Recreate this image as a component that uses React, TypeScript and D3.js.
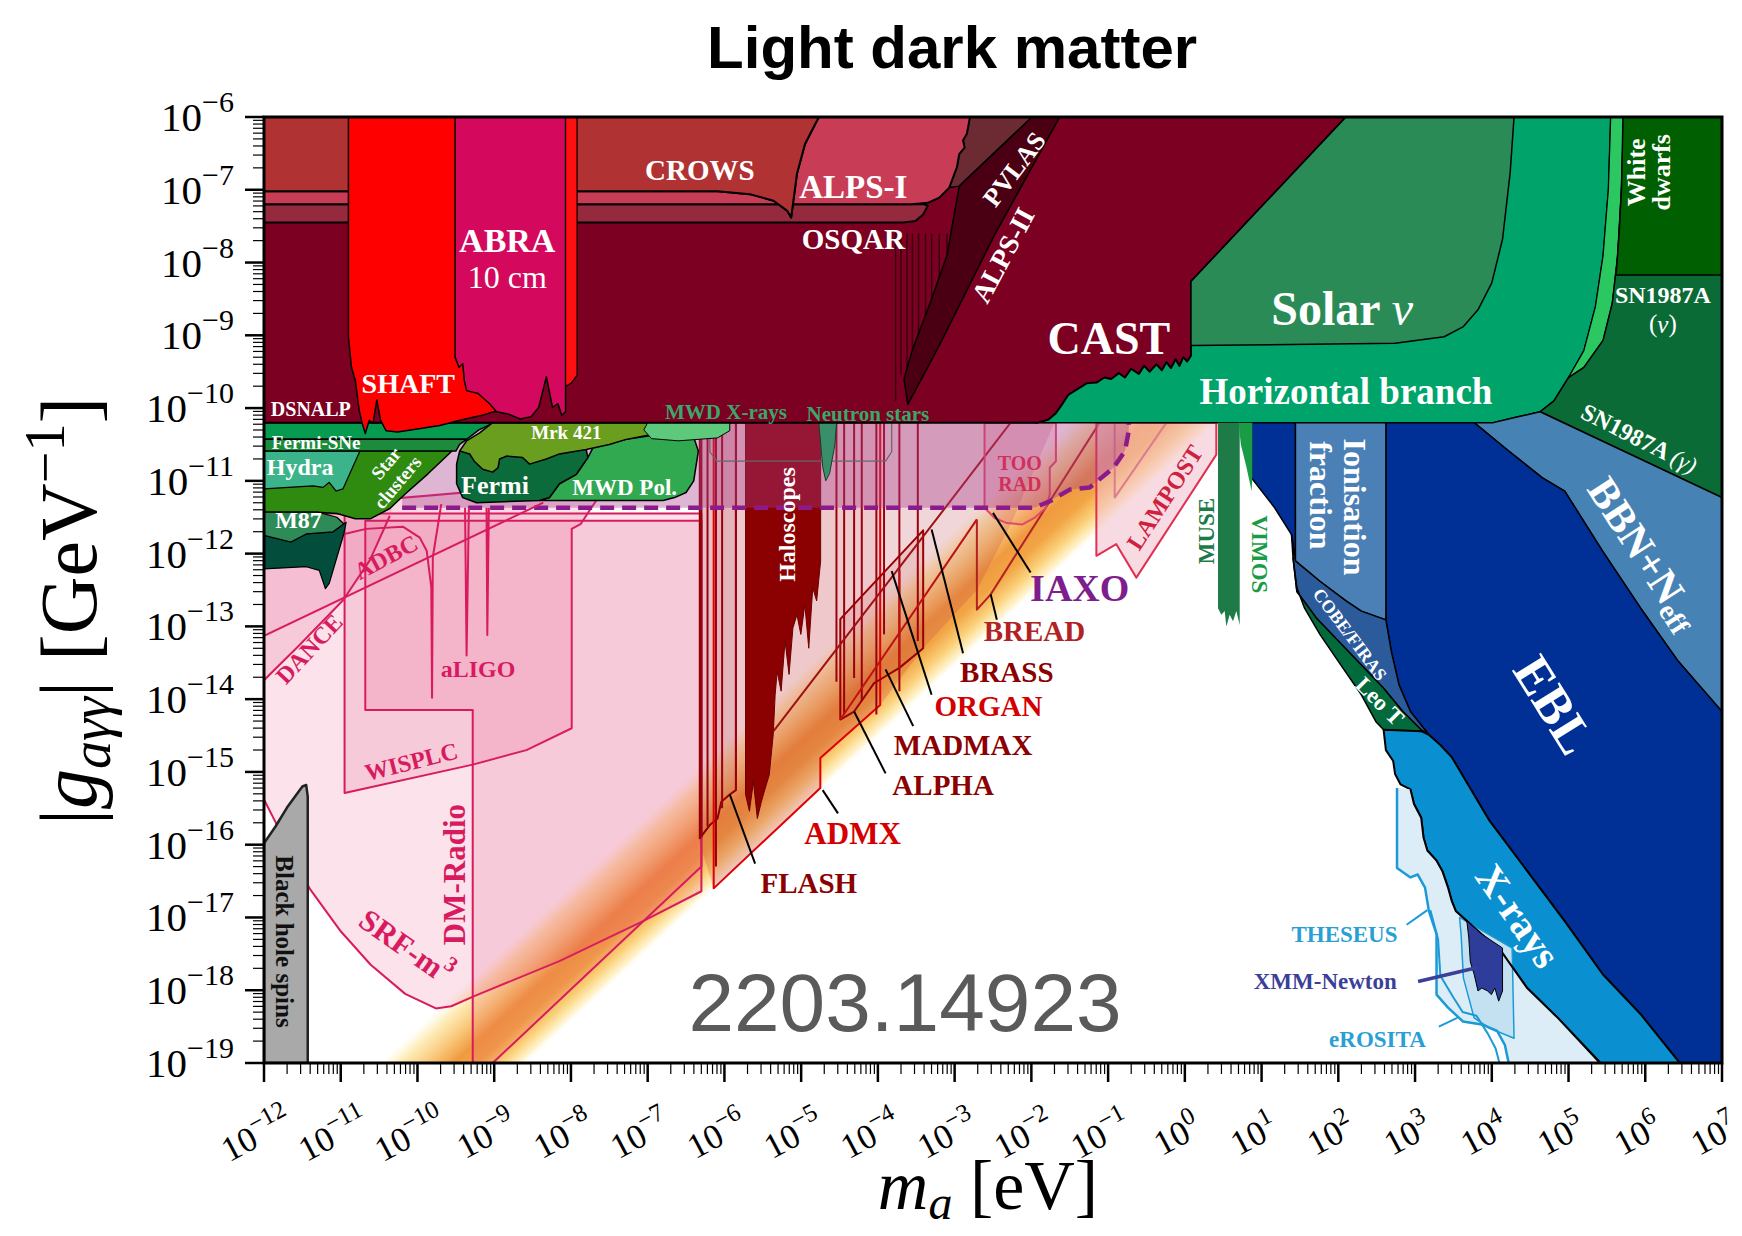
import React from "react";
import * as d3 from "d3";

type P = [number, number]; // [log10 m_a (eV), log10 |g| (GeV^-1)]

const X_DECADES = d3.range(-12, 8);
const Y_DECADES = d3.range(-19, -5);

// QCD axion band: upper-left edge and lower-right edge
const QCD_BAND: P[] = [[-10.5, -19], [-8.55, -19], [0.45, -10.2], [-1.5, -10.2]];

// ---- laboratory / helioscope region (top) ----
const CAST: P[] = [[-12, -6], [2.1, -6], [0.08, -8.26], [0.08, -9.28], [0.03, -9.36], [-0.02, -9.3], [-0.07, -9.42], [-0.12, -9.33], [-0.18, -9.45], [-0.24, -9.37], [-0.3, -9.48], [-0.37, -9.4], [-0.46, -9.5], [-0.53, -9.42], [-0.6, -9.53], [-0.7, -9.46], [-0.78, -9.58], [-0.86, -9.52], [-0.96, -9.6], [-1.05, -9.58], [-1.15, -9.65], [-1.28, -9.66], [-1.4, -9.74], [-1.52, -9.82], [-1.6, -9.95], [-1.68, -10.07], [-1.78, -10.16], [-1.92, -10.2], [-12, -10.2]];
const CROWS: P[] = [[-12, -6], [-4.77, -6], [-4.95, -6.37], [-5.055, -6.78], [-5.13, -7.38], [-5.18, -7.29], [-5.36, -7.15], [-5.67, -7.06], [-6.09, -7.02], [-12, -7.02]];
const ALPS_I: P[] = [[-12, -7.02], [-6.09, -7.02], [-5.67, -7.06], [-5.36, -7.15], [-5.18, -7.29], [-5.13, -7.38], [-5.055, -6.78], [-4.95, -6.37], [-4.77, -6], [-2.8, -6], [-2.84, -6.23], [-2.89, -6.32], [-2.87, -6.42], [-2.94, -6.51], [-2.97, -6.69], [-3.02, -6.83], [-3.07, -6.97], [-3.2, -7.11], [-3.35, -7.18], [-3.56, -7.2], [-12, -7.2]];
const OSQAR: P[] = [[-12, -7.2], [-3.4, -7.2], [-3.35, -7.22], [-3.41, -7.34], [-3.51, -7.43], [-3.67, -7.45], [-12, -7.45]];
const PVLAS: P[] = [[-2.85, -6], [-1.99, -6], [-2.94, -6.95], [-3.07, -6.97], [-3.02, -6.83], [-2.97, -6.69], [-2.94, -6.51], [-2.87, -6.42], [-2.89, -6.32], [-2.84, -6.23]];
const ALPS_II: P[] = [[-1.99, -6], [-1.63, -6], [-2.48, -7.62], [-3.2, -9.14], [-3.61, -9.95], [-3.66, -9.6], [-3.55, -9.2], [-3.3, -8.5], [-3.1, -7.9], [-2.94, -6.95]];
const ALPS_II_SPIKES: P[] = [[-3.77, -9.9], [-3.7, -9.55], [-3.62, -9.75], [-3.55, -9.3], [-3.47, -9.45], [-3.38, -8.95], [-3.3, -9.1], [-3.2, -8.6], [-3.1, -8.7]];
const SHAFT: P[] = [[-10.9, -6], [-8.97, -6], [-8.97, -10.05], [-9.01, -10.05], [-9.16, -10.1], [-9.46, -10.17], [-9.71, -10.24], [-9.96, -10.28], [-10.26, -10.33], [-10.41, -10.31], [-10.48, -10.17], [-10.53, -9.89], [-10.58, -10.21], [-10.63, -10.17], [-10.68, -10.35], [-10.72, -10.21], [-10.76, -10.03], [-10.81, -9.62], [-10.86, -9.44], [-10.9, -9.02]];
const ABRA: P[] = [[-9.51, -6], [-8.07, -6], [-8.07, -10.05], [-8.12, -10.1], [-8.17, -9.94], [-8.24, -9.99], [-8.32, -9.57], [-8.42, -9.99], [-8.52, -10.12], [-8.66, -10.15], [-8.82, -10.08], [-8.97, -10.05], [-9.06, -9.94], [-9.21, -9.8], [-9.36, -9.76], [-9.39, -9.62], [-9.41, -9.39], [-9.46, -9.44], [-9.51, -9.3]];
const RED_STRIP: P[] = [[-8.07, -6], [-7.92, -6], [-7.92, -9.55], [-8.0, -9.66], [-8.07, -9.7]];

// ---- stellar bounds (top right) ----
const HB: P[] = [[-1.0, -6], [5.55, -6], [5.52, -6.99], [5.45, -7.91], [5.35, -8.61], [5.2, -9.21], [5.0, -9.58], [4.81, -9.9], [4.63, -10.05], [4.3, -10.13], [4.02, -10.2], [-1.95, -10.2]];
const SOLAR_NU: P[] = [[2.1, -6], [4.29, -6], [4.24, -6.76], [4.14, -7.68], [4.0, -8.28], [3.82, -8.65], [3.63, -8.88], [3.38, -9.02], [2.74, -9.11], [0.08, -9.14], [0.08, -8.26]];
const WD_STRIP: P[] = [[5.55, -6], [5.72, -6], [5.69, -6.99], [5.64, -7.91], [5.57, -8.56], [5.45, -9.07], [5.2, -9.44], [5.0, -9.58], [5.2, -9.21], [5.35, -8.61], [5.45, -7.91], [5.52, -6.99]];
const SN1987A: P[] = [[5.72, -6], [7, -6], [7, -11.23], [4.63, -10.05], [4.81, -9.9], [5.0, -9.58], [5.2, -9.44], [5.45, -9.07], [5.57, -8.56], [5.64, -7.91], [5.69, -6.99]];
const WHITE_DWARFS: P[] = [[5.71, -6], [7, -6], [7, -8.17], [5.62, -8.17], [5.66, -7.6], [5.69, -6.99]];

// ---- cosmology / X-rays (right) ----
const BBN: P[] = [[3.77, -10.2], [4.02, -10.2], [4.3, -10.13], [4.63, -10.05], [7, -11.23], [7, -14.17], [6.43, -13.48], [5.94, -12.75], [5.446, -11.97], [4.95, -11.14], [4.66, -10.96], [4.22, -10.59]];
const EBL: P[] = [[2.62, -10.2], [3.77, -10.2], [4.22, -10.59], [4.66, -10.96], [4.95, -11.14], [5.446, -11.97], [5.94, -12.75], [6.43, -13.48], [7, -14.17], [7, -19], [6.45, -19], [5.94, -18.33], [5.446, -17.78], [4.95, -17.05], [4.46, -16.36], [3.97, -15.67], [3.48, -14.8], [3.33, -14.63], [3.18, -14.49], [2.94, -14.17], [2.79, -13.8], [2.69, -13.34], [2.62, -12.91]];
const IONISATION: P[] = [[1.44, -10.2], [2.62, -10.2], [2.62, -12.91], [2.3, -12.79], [2.1, -12.65], [1.76, -12.38], [1.44, -12.1]];
const DARK_WEDGE: P[] = [[0.87, -10.2], [1.44, -10.2], [1.44, -12.1], [1.39, -11.74], [1.17, -11.37], [0.87, -10.96]];
const COBE: P[] = [[1.39, -11.74], [1.44, -12.1], [1.76, -12.38], [2.1, -12.65], [2.3, -12.79], [2.62, -12.91], [2.69, -13.34], [2.79, -13.8], [2.94, -14.17], [3.18, -14.49], [3.08, -14.42], [2.84, -14.17], [2.59, -13.85], [2.3, -13.53], [2.0, -13.2], [1.71, -12.88], [1.46, -12.52], [1.41, -12.06]];
const LEO_T: P[] = [[1.41, -12.06], [1.46, -12.52], [1.71, -12.88], [2.0, -13.2], [2.3, -13.53], [2.59, -13.85], [2.84, -14.17], [3.08, -14.42], [3.08, -14.44], [2.59, -14.42], [2.49, -14.31], [2.3, -13.94], [2.0, -13.48], [1.76, -13.11], [1.56, -12.75], [1.46, -12.47]];
const XRAYS: P[] = [[2.59, -14.42], [3.08, -14.44], [3.18, -14.49], [3.33, -14.63], [3.48, -14.8], [3.97, -15.67], [4.46, -16.36], [4.95, -17.05], [5.446, -17.78], [5.94, -18.33], [6.45, -19], [5.41, -19], [5.4, -18.98], [4.86, -18.38], [4.46, -17.97], [4.12, -17.46], [3.87, -17.23], [3.675, -17.05], [3.53, -16.91], [3.48, -16.78], [3.43, -16.59], [3.355, -16.36], [3.28, -16.22], [3.16, -16.08], [3.11, -15.9], [3.08, -15.63], [2.986, -15.44], [2.94, -15.24], [2.81, -15.17], [2.74, -15.03], [2.715, -14.85], [2.62, -14.7]];
const THESEUS_LINE: P[] = [[2.765, -15.22], [2.765, -16.32], [2.94, -16.45], [3.035, -16.41], [3.13, -16.59], [3.18, -16.91], [3.28, -17.23], [3.28, -18.06], [3.43, -18.24], [3.625, -18.43], [3.87, -18.47], [4.07, -18.56], [4.17, -18.75], [4.22, -19]];
const XRAY_EDGE: P[] = [[5.41, -19], [4.86, -18.38], [4.46, -17.97], [4.12, -17.46], [3.87, -17.23], [3.675, -17.05], [3.53, -16.91], [3.48, -16.78], [3.43, -16.59], [3.355, -16.36], [3.28, -16.22], [3.16, -16.08], [3.11, -15.9], [3.08, -15.63], [2.986, -15.44], [2.94, -15.24]];
const EROSITA_BOX: P[] = [[3.58, -17.0], [4.265, -17.42], [4.29, -18.66], [3.97, -18.52], [3.77, -18.38], [3.63, -17.83], [3.6, -17.23]];
const EROSITA_LINE: P[] = [[3.2, -16.9], [3.3, -17.3], [3.33, -17.8], [3.5, -18.1], [3.62, -18.3], [3.8, -18.35], [3.95, -18.6], [4.05, -18.8], [4.1, -19]];
const XMM: P[] = [[3.675, -17.05], [3.87, -17.23], [4.14, -17.42], [4.14, -18.01], [4.09, -18.15], [4.04, -17.97], [3.995, -18.06], [3.945, -18.01], [3.87, -17.97], [3.82, -18.01], [3.77, -17.78], [3.72, -17.61], [3.7, -17.28]];
const MUSE: P[] = [[0.432, -10.2], [0.715, -10.2], [0.715, -12.98], [0.671, -12.79], [0.628, -12.93], [0.584, -12.84], [0.541, -13.0], [0.519, -12.79], [0.476, -12.84], [0.432, -12.75]];
const VIMOS: P[] = [[0.7, -10.2], [0.88, -10.2], [0.88, -10.95], [0.87, -11.14], [0.8, -10.8], [0.73, -10.5]];

// ---- astrophysical bounds (left, green) ----
const FERMI_SNE_A: P[] = [[-12, -10.2], [-9.0, -10.2], [-9.2, -10.3], [-9.36, -10.43], [-12, -10.43]];
const FERMI_SNE_B: P[] = [[-12, -10.43], [-9.36, -10.43], [-9.45, -10.5], [-9.5, -10.59], [-12, -10.59]];
const STAR_CLUSTERS: P[] = [[-12, -10.59], [-9.54, -10.58], [-9.86, -10.9], [-10.16, -11.18], [-10.36, -11.38], [-10.61, -11.52], [-10.81, -11.52], [-11.05, -11.45], [-11.3, -11.43], [-12, -11.43]];
const HYDRA: P[] = [[-12, -10.59], [-10.75, -10.59], [-10.97, -11.11], [-11.06, -11.14], [-11.15, -11.02], [-11.23, -11.09], [-11.36, -11.07], [-12, -11.11]];
const M87: P[] = [[-12, -11.43], [-11.3, -11.43], [-11.05, -11.5], [-10.96, -11.59], [-11.1, -11.7], [-11.45, -11.73], [-11.65, -11.84], [-12, -11.75]];
const M87_DEEP: P[] = [[-12, -11.75], [-11.65, -11.84], [-11.45, -11.73], [-11.1, -11.7], [-10.93, -11.57], [-10.96, -11.73], [-11.05, -12.05], [-11.15, -12.41], [-11.2, -12.48], [-11.28, -12.23], [-11.45, -12.18], [-12, -12.21]];
const FERMI: P[] = [[-9.45, -10.59], [-9.02, -10.57], [-7.8, -10.57], [-7.78, -10.68], [-7.93, -10.91], [-8.15, -11.04], [-8.28, -11.23], [-8.41, -11.27], [-9.23, -11.3], [-9.41, -11.23], [-9.49, -11.04], [-9.49, -10.77]];
const MWD_POL: P[] = [[-8.41, -11.27], [-8.28, -11.23], [-8.15, -11.04], [-7.93, -10.91], [-7.78, -10.68], [-7.71, -10.54], [-7.28, -10.43], [-6.84, -10.36], [-6.4, -10.4], [-6.34, -10.59], [-6.4, -11.0], [-6.5, -11.16], [-6.65, -11.23], [-6.8, -11.27]];
const MRK421: P[] = [[-9.02, -10.2], [-6.45, -10.2], [-6.63, -10.29], [-6.93, -10.36], [-7.28, -10.43], [-7.5, -10.5], [-7.8, -10.57], [-8.15, -10.63], [-8.32, -10.7], [-8.54, -10.77], [-8.63, -10.68], [-8.84, -10.66], [-8.93, -10.7], [-8.95, -10.82], [-9.02, -10.88], [-9.15, -10.84], [-9.26, -10.73], [-9.32, -10.63], [-9.45, -10.59], [-9.36, -10.45], [-9.19, -10.34]];
const MWD_XRAYS: P[] = [[-7.0, -10.2], [-5.93, -10.2], [-5.93, -10.31], [-6.09, -10.41], [-6.6, -10.45], [-6.95, -10.42], [-7.05, -10.3]];
const NS_SLIVER: P[] = [[-4.77, -10.2], [-4.54, -10.2], [-4.56, -10.5], [-4.63, -10.9], [-4.68, -11.0], [-4.72, -10.8]];
const NEUTRON_STARS: P[] = [[-6.19, -10.2], [-6.19, -10.6], [-6.1, -10.73], [-3.9, -10.73], [-3.82, -10.6], [-3.82, -10.2]];

// ---- projections (pink) ----
const SRF_M3: P[] = [[-12, -11.45], [-6.3, -11.45], [-6.3, -16.64], [-7.06, -17.05], [-8.15, -17.6], [-9.26, -18.08], [-9.56, -18.22], [-9.76, -18.25], [-10.16, -18.05], [-10.61, -17.65], [-11.0, -17.19], [-11.4, -16.61], [-11.65, -16.15], [-11.85, -15.69], [-12, -15.38]];
const DM_RADIO: P[] = [[-10.68, -11.55], [-10.68, -14.15], [-9.28, -14.15], [-9.28, -19], [-9.02, -19], [-6.3, -16.3], [-6.3, -11.55]];
const WISPLC: P[] = [[-10.95, -11.3], [-10.95, -15.29], [-9.28, -14.9], [-8.58, -14.7], [-7.99, -14.4], [-7.99, -11.66], [-7.87, -11.59], [-7.76, -11.41], [-7.67, -11.27], [-7.6, -11.0]];
const DANCE: P[] = [[-12, -13.74], [-11.54, -13.26], [-10.97, -12.64], [-10.62, -12.09], [-10.36, -11.48], [-10.3, -11.3], [-12, -11.3]];
const ADBC: P[] = [[-12, -13.13], [-8.36, -11.3], [-8.36, -11.2], [-12, -11.2]];
const ALIGO: P[][] = [
  [[-10.95, -11.73], [-10.67, -11.66], [-10.19, -11.63], [-9.97, -11.78], [-9.88, -11.96], [-9.82, -12.46], [-9.81, -13.98], [-9.8, -12.05], [-9.69, -11.32]],
  [[-9.38, -11.37], [-9.36, -13.4], [-9.33, -11.37]],
  [[-9.1, -11.37], [-9.09, -13.12], [-9.07, -11.37]],
];
const IAXO: P[] = [[-10.2, -10.2], [-10.2, -11.37], [-1.96, -11.37], [-1.76, -11.28], [-1.5, -11.12], [-1.24, -11.09], [-0.93, -10.82], [-0.78, -10.59], [-0.73, -10.31], [-0.73, -10.2]];
const TOO_RAD: P[] = [[-2.61, -10.2], [-2.61, -11.37], [-2.48, -11.51], [-2.32, -11.58], [-2.12, -11.6], [-1.96, -11.51], [-1.81, -11.37], [-1.76, -11.19], [-1.76, -10.82], [-1.68, -10.73], [-1.68, -10.2]];
const LAMPOST: P[] = [[-1.153, -10.2], [-1.153, -12.03], [-0.893, -11.87], [-0.632, -12.33], [0.41, -10.64], [0.41, -10.2]];

// ---- haloscopes ----
const HALO_SHADE: P[] = [[-6.34, -10.2], [-6.34, -15.91], [-6.14, -16.6], [-4.75, -15.22], [-4.75, -14.81], [-3.97, -14.08], [-3.41, -13.3], [-2.71, -12.5], [-2.27, -11.6], [-1.7, -10.2]];
const HALOSCOPES: P[] = [[-5.725, -10.2], [-4.746, -10.2], [-4.746, -12.1], [-4.798, -12.65], [-4.849, -12.47], [-4.901, -13.3], [-4.952, -12.7], [-5.004, -13.11], [-5.055, -12.84], [-5.107, -13.02], [-5.158, -13.66], [-5.21, -13.2], [-5.261, -13.89], [-5.313, -13.62], [-5.339, -13.94], [-5.364, -14.49], [-5.416, -15.04], [-5.467, -15.22], [-5.519, -15.41], [-5.571, -15.64], [-5.622, -15.13], [-5.674, -15.54], [-5.725, -15.31]];
const HALO_LINES: P[] = [[-6.3, -15.9], [-6.22, -15.75], [-6.11, -16.3], [-6.03, -15.5], [-5.85, -15.25], [-4.54, -13.76], [-4.44, -14.21], [-4.31, -13.71], [-4.21, -14.03], [-4.02, -14.21], [-3.92, -13.11], [-3.72, -13.89], [-3.48, -13.2]];
const FLASH: P[] = [[-6.32, -10.2], [-6.32, -15.91], [-6.19, -15.73], [-6.09, -15.64], [-6.04, -15.41], [-5.93, -15.31], [-5.85, -15.25], [-5.85, -10.2]];
const ADMX: P[] = [[-6.14, -10.2], [-6.14, -16.6], [-4.75, -15.22], [-4.75, -14.81], [-3.97, -14.08], [-3.97, -10.2]];
const ALPHA_MADMAX: P[] = [[-4.49, -12.9], [-4.49, -14.28], [-4.31, -14.17], [-4.05, -13.78], [-3.97, -13.73], [-3.72, -13.57], [-3.41, -13.3], [-3.41, -11.68]];
const BRASS: P[] = [[-5.36, -14.44], [-2.27, -10.2]];
const ORGAN: P[] = [[-4.49, -14.28], [-2.71, -11.53]];
const ORGAN_V: P[] = [[-3.72, -12.24], [-3.72, -13.57]];
const BREAD: P[] = [[-2.71, -11.53], [-2.71, -12.77], [-2.53, -12.56], [-1.11, -10.2]];
const SUPERMAX: P[] = [[-0.914, -10.2], [-0.914, -11.23], [-0.24, -10.2]];

const BH_SPINS: P[] = [[-12, -19], [-12, -15.98], [-11.85, -15.75], [-11.7, -15.49], [-11.5, -15.2], [-11.45, -15.18], [-11.43, -15.34], [-11.43, -19]];

// pointer lines [from, to]
const POINTERS: { id: string; a: P; b: P }[] = [
  { id: "FLASH", a: [-5.93, -15.31], b: [-5.6, -16.26] },
  { id: "ADMX", a: [-4.72, -15.25], b: [-4.52, -15.57] },
  { id: "ALPHA", a: [-4.31, -14.17], b: [-3.9, -15.02] },
  { id: "MADMAX", a: [-3.9, -13.59], b: [-3.54, -14.37] },
  { id: "ORGAN", a: [-3.82, -12.24], b: [-3.3, -13.94] },
  { id: "BRASS", a: [-3.3, -11.67], b: [-2.89, -13.37] },
  { id: "BREAD", a: [-2.53, -12.56], b: [-2.45, -12.91] },
  { id: "IAXO", a: [-2.5, -11.44], b: [-2.01, -12.26] },
  { id: "THESEUS", a: [2.89, -17.1], b: [3.16, -16.9] },
  { id: "XMM", a: [3.04, -17.88], b: [3.8, -17.69] },
  { id: "eROSITA", a: [3.31, -18.5], b: [3.55, -18.38] },
];

// labels [id, text, log m, log g]
const LABELS: [string, string, number, number][] = [
  ["crows", "CROWS", -6.32, -6.73], ["alps1", "ALPS-I", -4.32, -6.96], ["osqar", "OSQAR", -4.32, -7.67],
  ["abra", "ABRA", -8.83, -7.7], ["abra2", "10 cm", -8.83, -8.2], ["shaft", "SHAFT", -10.12, -9.66],
  ["dsnalp", "DSNALP", -11.39, -10.01], ["cast", "CAST", -0.99, -9.05], ["pvlas", "PVLAS", -2.22, -6.72],
  ["alps2", "ALPS-II", -2.37, -7.9], ["hb", "Horizontal branch", 2.1, -9.77],
  ["wd1", "White", 5.89, -6.76], ["wd2", "dwarfs", 6.21, -6.76], ["sn1", "SN1987A", 6.23, -8.45],
  ["ebl", "EBL", 4.81, -14.08], ["xrays", "X-rays", 4.34, -16.98], ["ion1", "Ionisation", 2.22, -11.36],
  ["ion2", "fraction", 1.78, -11.2], ["cobe", "COBE/FIRAS", 2.15, -13.11], ["leo", "Leo T", 2.54, -14.03],
  ["muse", "MUSE", 0.28, -11.69], ["vimos", "VIMOS", 0.975, -12.01], ["lampost", "LAMPOST", -0.26, -11.23],
  ["iaxo", "IAXO", -1.37, -12.47], ["too", "TOO", -2.15, -10.75], ["rad", "RAD", -2.15, -11.05],
  ["aligo", "aLIGO", -9.21, -13.58], ["adbc", "ADBC", -10.41, -12.05], ["dance", "DANCE", -11.41, -13.31],
  ["wisplc", "WISPLC", -10.08, -14.86], ["dmradio", "DM-Radio", -9.52, -16.41], ["bhs", "Black hole spins", -11.73, -17.33],
  ["fsne", "Fermi-SNe", -11.32, -10.47], ["hydra", "Hydra", -11.53, -10.81], ["m87", "M87", -11.55, -11.54],
  ["star1", "Star", -10.41, -10.76], ["star2", "clusters", -10.26, -11.02], ["fermi", "Fermi", -8.99, -11.07],
  ["mrk", "Mrk 421", -8.06, -10.34], ["mwdpol", "MWD Pol.", -7.3, -11.09], ["mwdx", "MWD X-rays", -5.98, -10.06],
  ["ns", "Neutron stars", -4.13, -10.08], ["halo", "Haloscopes", -5.18, -11.6],
  ["bread", "BREAD", -1.96, -13.07], ["brass", "BRASS", -2.32, -13.62], ["organ", "ORGAN", -2.56, -14.1],
  ["madmax", "MADMAX", -2.89, -14.63], ["alpha", "ALPHA", -3.15, -15.18], ["admx", "ADMX", -4.33, -15.84],
  ["flash", "FLASH", -4.9, -16.53], ["theseus", "THESEUS", 2.08, -17.24], ["xmm", "XMM-Newton", 1.83, -17.88],
  ["erosita", "eROSITA", 2.51, -18.68],
];
const SOLAR_AT: P = [2.05, -8.63];
const SN_NU_AT: P = [6.23, -8.84];
const SN_GAMMA_AT: P = [5.92, -10.42];
const BBN_AT: P = [5.99, -12.0];
const SRF_AT: P = [-10.15, -17.4];

const SERIF = "'Liberation Serif', 'DejaVu Serif', serif";
const SANS = "'Liberation Sans', Arial, sans-serif";

export default function App() {
  const W = 1742, H = 1236;
  const mg = { l: 264, r: 1722, t: 117, b: 1063 };
  const x = d3.scaleLog().domain([1e-12, 1e7]).range([mg.l, mg.r]);
  const y = d3.scaleLog().domain([1e-19, 1e-6]).range([mg.b, mg.t]);
  const X = (p: P) => x(Math.pow(10, p[0]));
  const Y = (p: P) => y(Math.pow(10, p[1]));
  const ln = d3.line<P>().x(X).y(Y);
  const poly = (pts: P[]) => ln(pts) + "Z";

  // gradient across the QCD band, perpendicular to it
  const b0 = [X(QCD_BAND[0]), Y(QCD_BAND[0])];
  const b1 = [X(QCD_BAND[1]), Y(QCD_BAND[1])];
  const b2 = [X(QCD_BAND[2]), Y(QCD_BAND[2])];
  const ux = b2[0] - b1[0], uy = b2[1] - b1[1];
  const ul = Math.hypot(ux, uy);
  const nx = -uy / ul, ny = ux / ul;
  const proj = (b1[0] - b0[0]) * nx + (b1[1] - b0[1]) * ny;

  const reg = (pts: P[], fill: string, stroke = "#000", sw = 1.5, op = 1) => (
    <path d={poly(pts)} fill={fill} fillOpacity={op} stroke={stroke} strokeWidth={sw} strokeLinejoin="round" />
  );
  const pl = (pts: P[], stroke: string, sw = 2, dash?: string) => (
    <path d={ln(pts) || ""} fill="none" stroke={stroke} strokeWidth={sw} strokeDasharray={dash} strokeLinejoin="round" />
  );

  const PINK = "#e0306e";
  const PINK_S = "#d81b5e";

  const st: Record<string, { s: number; c: string; r?: number; w?: string }> = {
    crows: { s: 29, c: "#fff" }, alps1: { s: 33, c: "#fff" }, osqar: { s: 29, c: "#fff" },
    abra: { s: 34, c: "#fff" }, abra2: { s: 32, c: "#fff", w: "normal" }, shaft: { s: 28, c: "#fff" },
    dsnalp: { s: 20, c: "#fff" }, cast: { s: 46, c: "#fff" }, pvlas: { s: 26, c: "#fff", r: -53 },
    alps2: { s: 28, c: "#fff", r: -62 }, hb: { s: 37, c: "#fff" }, wd1: { s: 26, c: "#fff", r: -90 },
    wd2: { s: 26, c: "#fff", r: -90 }, sn1: { s: 24, c: "#fff" }, ebl: { s: 52, c: "#fff", r: 58 },
    xrays: { s: 40, c: "#fff", r: 55 }, ion1: { s: 32, c: "#fff", r: 90 }, ion2: { s: 32, c: "#fff", r: 90 },
    cobe: { s: 18, c: "#fff", r: 53 }, leo: { s: 23, c: "#fff", r: 45 }, muse: { s: 23, c: "#1e7a47", r: -90 },
    vimos: { s: 23, c: "#1a9c46", r: 90 }, lampost: { s: 24, c: "#d0203f", r: -57 }, iaxo: { s: 38, c: "#7d1e8c" },
    too: { s: 20, c: "#d0305a" }, rad: { s: 20, c: "#d0305a" }, aligo: { s: 24, c: PINK_S },
    adbc: { s: 24, c: PINK_S, r: -28 }, dance: { s: 24, c: PINK_S, r: -47 }, wisplc: { s: 24, c: PINK_S, r: -14 },
    dmradio: { s: 31, c: PINK_S, r: -90 }, bhs: { s: 25, c: "#111", r: 90 }, fsne: { s: 19, c: "#fff" },
    hydra: { s: 24, c: "#fff" }, m87: { s: 24, c: "#fff" }, star1: { s: 19, c: "#fff", r: -50 },
    star2: { s: 19, c: "#fff", r: -50 }, fermi: { s: 26, c: "#fff" }, mrk: { s: 19, c: "#fff" },
    mwdpol: { s: 23, c: "#fff" }, mwdx: { s: 21, c: "#3aa86a" }, ns: { s: 21, c: "#3aa86a" },
    halo: { s: 24, c: "#fff", r: -90 }, bread: { s: 29, c: "#b22222" }, brass: { s: 29, c: "#8b0000" },
    organ: { s: 29, c: "#d40000" }, madmax: { s: 29, c: "#8b0000" }, alpha: { s: 29, c: "#8b0000" },
    admx: { s: 31, c: "#d40000" }, flash: { s: 29, c: "#8b0000" }, theseus: { s: 23, c: "#2a9fd6" },
    xmm: { s: 23, c: "#3b3f99" }, erosita: { s: 23, c: "#2a9fd6" },
  };

  const lbl = (key: string | number, at: P, size: number, color: string, rot: number, children: React.ReactNode, weight = "bold") => (
    <text key={key} transform={`translate(${X(at)},${Y(at)}) rotate(${rot})`} fontFamily={SERIF} fontSize={size}
      fontWeight={weight} fill={color} textAnchor="middle" dominantBaseline="central">{children}</text>
  );

  const sup = (e: number) => (e < 0 ? "\u2212" + -e : String(e));

  return (
    <svg width={W} height={H} style={{ position: "absolute", left: 0, top: 0, background: "#fff" }}>
      <defs>
        <clipPath id="plot"><rect x={mg.l} y={mg.t} width={mg.r - mg.l} height={mg.b - mg.t} /></clipPath>
        <linearGradient id="qcd" gradientUnits="userSpaceOnUse" x1={b0[0]} y1={b0[1]} x2={b0[0] + nx * proj} y2={b0[1] + ny * proj}>
          <stop offset="0" stopColor="#fff2c0" stopOpacity="0" />
          <stop offset="0.14" stopColor="#fde6a4" stopOpacity="0.8" />
          <stop offset="0.34" stopColor="#f8c06c" stopOpacity="0.95" />
          <stop offset="0.5" stopColor="#f09a40" stopOpacity="1" />
          <stop offset="0.66" stopColor="#f2a545" stopOpacity="1" />
          <stop offset="0.82" stopColor="#fbd27c" stopOpacity="1" />
          <stop offset="0.93" stopColor="#fff0c0" stopOpacity="0.85" />
          <stop offset="1" stopColor="#ffffff" stopOpacity="0" />
        </linearGradient>
      </defs>

      <text x={857 * 1.111} y={68} textAnchor="middle" fontFamily={SANS} fontWeight="bold" fontSize={60}>Light dark matter</text>

      <g clipPath="url(#plot)">
        <rect x={mg.l} y={mg.t} width={mg.r - mg.l} height={mg.b - mg.t} fill="#fff" />
        <path d={poly(QCD_BAND)} fill="url(#qcd)" />

        {reg(SRF_M3, PINK, PINK_S, 2, 0.14)}
        {reg(DANCE, PINK, "none", 0, 0.13)}
        {reg(ADBC, PINK, "none", 0, 0.07)}
        {reg(WISPLC, PINK, PINK_S, 2, 0.13)}
        {reg(DM_RADIO, PINK, PINK_S, 2, 0.13)}

        {reg(HALO_SHADE, "#b8303f", "none", 0, 0.2)}
        {reg(FLASH, "#a02030", "#8b0000", 2, 0.12)}
        {reg(ADMX, "#d02020", "#e00000", 2, 0.07)}
        {reg(ALPHA_MADMAX, "#b02020", "#9b0000", 2, 0.1)}
        {reg(HALOSCOPES, "#8b0000", "#6b0000", 1)}
        {HALO_LINES.map((p, i) => <g key={i}>{pl([[p[0], -10.2], p], "#9b0010", 2)}</g>)}
        {pl(BRASS, "#a01010", 2)}
        {pl(ORGAN, "#c01010", 2)}
        {pl(ORGAN_V, "#c01010", 2)}
        {pl(BREAD, "#b22222", 2)}
        {pl(SUPERMAX, "#c03040", 2)}
        {reg(TOO_RAD, "#e04060", "#e04a6a", 2, 0.14)}
        {reg(LAMPOST, "#f2bccb", "#e0304f", 2, 0.55)}

        {reg(IAXO, "#a83c8c", "none", 0, 0.38)}
        {pl(IAXO.slice(1), "#8b1a8b", 4.5, "14 8")}

        {ALIGO.map((a, i) => <g key={i}>{pl(a, PINK_S, 2)}</g>)}
        {pl(DANCE.slice(0, 5), PINK_S, 2)}
        {pl(ADBC.slice(0, 2), PINK_S, 2)}

        {pl(NEUTRON_STARS, "#666", 1.2)}
        {reg(NS_SLIVER, "#3a8f6a", "#1a3a2a", 1)}

        {reg(STAR_CLUSTERS, "#2f8a10", "#000", 1.5)}
        {reg(HYDRA, "#3cb48b", "#000", 1.2)}
        {reg(FERMI_SNE_A, "#079b50", "#000", 1.5)}
        {reg(FERMI_SNE_B, "#1d8b3c", "#000", 1.5)}
        {reg(M87_DEEP, "#024d3c", "#000", 1.2)}
        {reg(M87, "#2e8b57", "#000", 1.2)}
        {reg(MWD_POL, "#30a950", "#000", 1.5)}
        {reg(FERMI, "#0b6b3b", "#000", 1.5)}
        {reg(MRK421, "#6a9e1f", "#000", 1.5)}
        {reg(MWD_XRAYS, "#5ec87b", "#000", 1)}

        {reg(HB, "#00a46b")}
        {reg(WD_STRIP, "#2bc862", "#000", 1.2)}
        {reg(SN1987A, "#0b6b36")}
        {reg(WHITE_DWARFS, "#005f00")}
        {reg(CAST, "#7b0022", "#000", 2)}
        {reg(SOLAR_NU, "#2b8b57")}
        {reg(OSQAR, "#95293d", "#000", 2)}
        {reg(PVLAS, "#6c2b33", "#000", 1.5)}
        {reg(ALPS_I, "#c93c56", "#000", 2)}
        {reg(CROWS, "#b03232", "#000", 2)}
        {ALPS_II_SPIKES.map((p, i) => <g key={i}>{pl([[p[0], -7.6], p], "#3a0010", 1.5)}</g>)}
        {reg(ALPS_II, "#4a0012", "#000", 1.5)}
        {reg(SHAFT, "#ff0000", "#000", 1.5)}
        {reg(ABRA, "#d4085c", "#000", 1.5)}
        {reg(RED_STRIP, "#ff1010", "#000", 1.2)}

        {reg(BBN, "#4682b4")}
        {reg(EBL, "#002f96")}
        {reg(IONISATION, "#4a80b5")}
        {reg(DARK_WEDGE, "#002f96")}
        {reg(COBE, "#2c5b9c")}
        {reg(LEO_T, "#036b3b")}
        {reg(XRAYS, "#0a8fd0", "#000", 2)}
        <path d={ln(THESEUS_LINE.concat(XRAY_EDGE)) + "Z"} fill="#dcedf8" stroke="none" />
        {reg(EROSITA_BOX, "#c4e1f1", "#1a9ad6", 1.5)}
        {pl(EROSITA_LINE, "#1a9ad6", 2)}
        {pl(THESEUS_LINE, "#1a9ad6", 2.5)}
        {pl(XRAY_EDGE, "#000", 2)}
        {reg(XMM, "#2d3d99", "#000", 1)}
        {reg(MUSE, "#1e7a47", "none", 0)}
        {reg(VIMOS, "#1a9c46", "none", 0)}

        {reg(BH_SPINS, "#a9a9a9", "#222", 2.5)}

        {POINTERS.map((p) => (
          <line key={p.id} x1={X(p.a)} y1={Y(p.a)} x2={X(p.b)} y2={Y(p.b)}
            stroke={p.id === "XMM" ? "#3b3f99" : p.id === "THESEUS" || p.id === "eROSITA" ? "#1a9ad6" : "#000"}
            strokeWidth={p.id === "XMM" ? 3.5 : 2} />
        ))}

        {LABELS.map(([id, t, lx, ly]) => {
          const s = st[id];
          return lbl(id, [lx, ly], s.s, s.c, s.r || 0, t, s.w || "bold");
        })}
        {lbl("solar", SOLAR_AT, 48, "#fff", 0, <>Solar <tspan fontStyle="italic" fontWeight="normal">{"\u03bd"}</tspan></>)}
        {lbl("snnu", SN_NU_AT, 25, "#fff", 0, <>(<tspan fontStyle="italic">{"\u03bd"}</tspan>)</>, "normal")}
        {lbl("sngam", SN_GAMMA_AT, 24, "#fff", 27, <>SN1987A <tspan fontStyle="italic" fontWeight="normal">({"\u03b3"})</tspan></>)}
        {lbl("bbn", BBN_AT, 42, "#fff", 57, <>BBN+N<tspan fontSize={28} dy={10}>eff</tspan></>)}
        {lbl("srf", SRF_AT, 31, PINK_S, 35, <>SRF-m<tspan fontSize={22} dy={-12}>3</tspan></>)}

        <text x={905} y={1031} textAnchor="middle" fontFamily={SANS} fontSize={82} fill="#5a5a5a">2203.14923</text>
      </g>

      {/* axes */}
      <rect x={mg.l} y={mg.t} width={mg.r - mg.l} height={mg.b - mg.t} fill="none" stroke="#000" strokeWidth={3} />
      {Y_DECADES.map((e) => (
        <g key={"y" + e}>
          <line x1={mg.l - 19} x2={mg.l} y1={y(Math.pow(10, e))} y2={y(Math.pow(10, e))} stroke="#000" strokeWidth={2.5} />
          {e < -6 && d3.range(2, 10).map((k) => {
            const yy = y(k * Math.pow(10, e));
            return <line key={k} x1={mg.l - 11} x2={mg.l} y1={yy} y2={yy} stroke="#000" strokeWidth={1.2} />;
          })}
          <text x={mg.l - 30} y={y(Math.pow(10, e)) + 14} textAnchor="end" fontFamily={SERIF} fontSize={41}>
            10<tspan dy={-19} fontSize={30}>{sup(e)}</tspan>
          </text>
        </g>
      ))}
      {X_DECADES.map((e) => (
        <g key={"x" + e}>
          <line x1={x(Math.pow(10, e))} x2={x(Math.pow(10, e))} y1={mg.b} y2={mg.b + 19} stroke="#000" strokeWidth={2.5} />
          {e < 7 && d3.range(2, 10).map((k) => {
            const xx = x(k * Math.pow(10, e));
            return <line key={k} x1={xx} x2={xx} y1={mg.b} y2={mg.b + 11} stroke="#000" strokeWidth={1.2} />;
          })}
          <text transform={`translate(${x(Math.pow(10, e)) - 2},${1145}) rotate(-28)`} textAnchor="middle" fontFamily={SERIF} fontSize={35}>
            10<tspan dy={-15} fontSize={25}>{sup(e)}</tspan>
          </text>
        </g>
      ))}

      <text transform="translate(96,611) rotate(-90)" textAnchor="middle" fontFamily={SERIF} fontSize={80}>
        |<tspan fontStyle="italic">g</tspan><tspan fontStyle="italic" fontSize={56} dy={14}>{"a\u03b3\u03b3"}</tspan>
        <tspan dy={-14}>| [GeV</tspan><tspan fontSize={56} dy={-32}>{"\u22121"}</tspan><tspan dy={32}>]</tspan>
      </text>
      <text x={988} y={1209} textAnchor="middle" fontFamily={SERIF} fontSize={70}>
        <tspan fontStyle="italic">m</tspan><tspan fontStyle="italic" fontSize={48} dy={10}>a</tspan>
        <tspan dy={-10}> [eV]</tspan>
      </text>
    </svg>
  );
}
